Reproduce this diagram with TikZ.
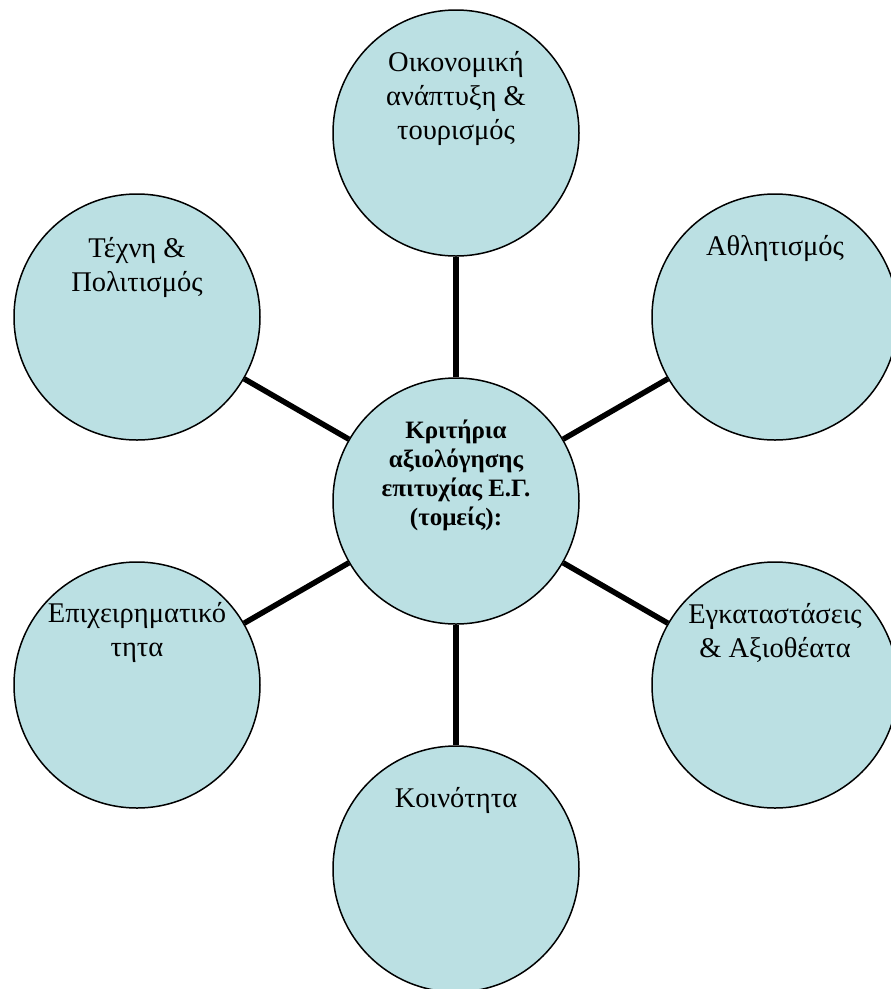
\documentclass[tikz,border=0pt]{standalone}
\usepackage{fontspec}
\setmainfont{Liberation Serif}
\begin{document}
\begin{tikzpicture}[x=1pt,y=-1pt,
  bubble/.style={circle,draw=black,line width=1.5pt,fill=bubblefill,minimum size=246pt,inner sep=0pt},
  label text/.style={align=center,inner sep=0pt,anchor=north,font=\fontsize{28.5}{34}\selectfont},
  hub text/.style={align=center,inner sep=0pt,anchor=north,font=\fontsize{25}{29}\selectfont\bfseries},
  spoke/.style={line width=5.5pt,black}]
\definecolor{bubblefill}{RGB}{187,224,227}
\useasboundingbox (0,0) rectangle (891,989);
% hub and the six surrounding sectors (regular hexagon, radius 368)
\node[bubble] (hub) at (456,501) {};
\node[bubble] (econ) at (456,133) {};
\node[bubble] (sport) at (775,317) {};
\node[bubble] (facil) at (775,685) {};
\node[bubble] (comm) at (456,869) {};
\node[bubble] (biz) at (137,685) {};
\node[bubble] (arts) at (137,317) {};
% spokes
\foreach \n in {econ,sport,facil,comm,biz,arts}
  \draw[spoke] (hub) -- (\n);
% texts
\node[hub text] (hubtxt) at ([yshift=-42pt]hub.north) {Κριτήρια\\αξιολόγησης\\επιτυχίας Ε.Γ.\\(τομείς):};
\node[label text] (econtxt) at ([yshift=-42pt]econ.north) {Οικονομική\\ανάπτυξη \&\\τουρισμός};
\node[label text] (sporttxt) at ([yshift=-42pt]sport.north) {Αθλητισμός};
\node[label text] (faciltxt) at ([yshift=-42pt]facil.north) {Εγκαταστάσεις\\\& Αξιοθέατα};
\node[label text] (commtxt) at ([yshift=-42pt]comm.north) {Κοινότητα};
\node[label text] (biztxt) at ([yshift=-41pt]biz.north) {Επιχειρηματικό\\τητα};
\node[label text] (artstxt) at ([yshift=-44pt]arts.north) {Τέχνη \&\\Πολιτισμός};
\end{tikzpicture}
\end{document}
